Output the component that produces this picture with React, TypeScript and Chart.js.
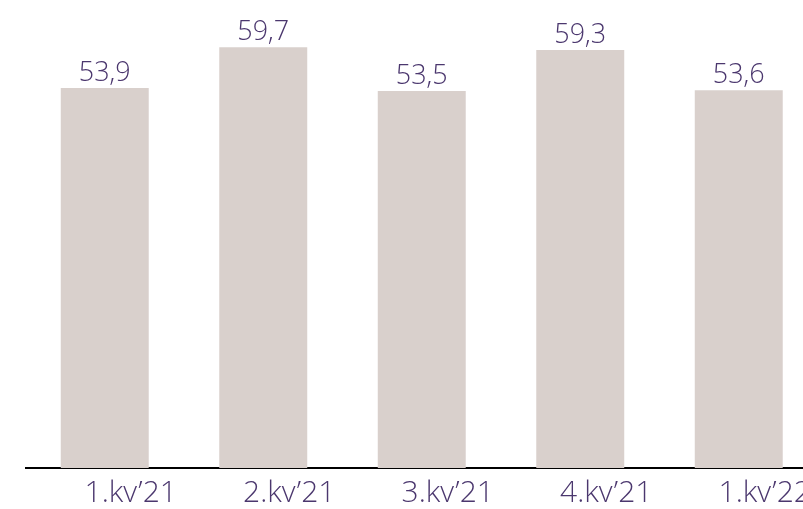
import React, { useEffect, useRef } from "react";
import { Chart, registerables } from "chart.js";

Chart.register(...registerables);

const categories = ["1.kv’21", "2.kv’21", "3.kv’21", "4.kv’21", "1.kv’22"];
const values = [53.9, 59.7, 53.5, 59.3, 53.6];
const valueLabels = ["53,9", "59,7", "53,5", "59,3", "53,6"];

const BAR_COLOR = "#d9d0cc";
const TEXT_COLOR = "#4b376e";
const FONT = "'Open Sans Light', 'Open Sans', sans-serif";

const valueLabelPlugin = {
  id: "valueLabels",
  afterDatasetsDraw(chart: any) {
    const ctx = chart.ctx;
    const meta = chart.getDatasetMeta(0);
    ctx.save();
    ctx.fillStyle = TEXT_COLOR;
    ctx.font = `300 27px ${FONT}`;
    ctx.textAlign = "center";
    ctx.textBaseline = "alphabetic";
    meta.data.forEach((bar: any, i: number) => {
      ctx.fillText(valueLabels[i], bar.x, bar.y - 7);
    });
    ctx.restore();
  },
};

export default function App() {
  const ref = useRef<HTMLCanvasElement>(null);
  useEffect(() => {
    if (!ref.current) return;
    const chart = new Chart(ref.current, {
      type: "bar",
      data: {
        labels: categories,
        datasets: [
          {
            data: values,
            backgroundColor: BAR_COLOR,
            barPercentage: 0.555,
            categoryPercentage: 1,
          },
        ],
      },
      options: {
        responsive: false,
        animation: false,
        layout: { padding: { left: 25.5, right: 2, top: 0, bottom: 0 } },
        plugins: { legend: { display: false }, tooltip: { enabled: false } },
        scales: {
          x: {
            grid: { display: false, drawTicks: false },
            border: { display: true, color: "#000", width: 2 },
            ticks: {
              color: TEXT_COLOR,
              font: { family: FONT, size: 30, weight: "300" as any },
              padding: 8,
              labelOffset: 26,
              maxRotation: 0,
              autoSkip: false,
            },
            afterFit: (scale: any) => {
              scale.height = 41;
            },
          },
          y: {
            display: false,
            min: 0,
            max: 66.4,
          },
        },
      },
      plugins: [valueLabelPlugin],
    });
    return () => chart.destroy();
  }, []);
  return (
    <div
      style={{
        position: "absolute",
        left: 0,
        top: 0,
        width: 803,
        height: 509,
        overflow: "hidden",
        background: "#fff",
      }}
    >
      <canvas ref={ref} width={820} height={509} style={{ display: "block" }} />
    </div>
  );
}
